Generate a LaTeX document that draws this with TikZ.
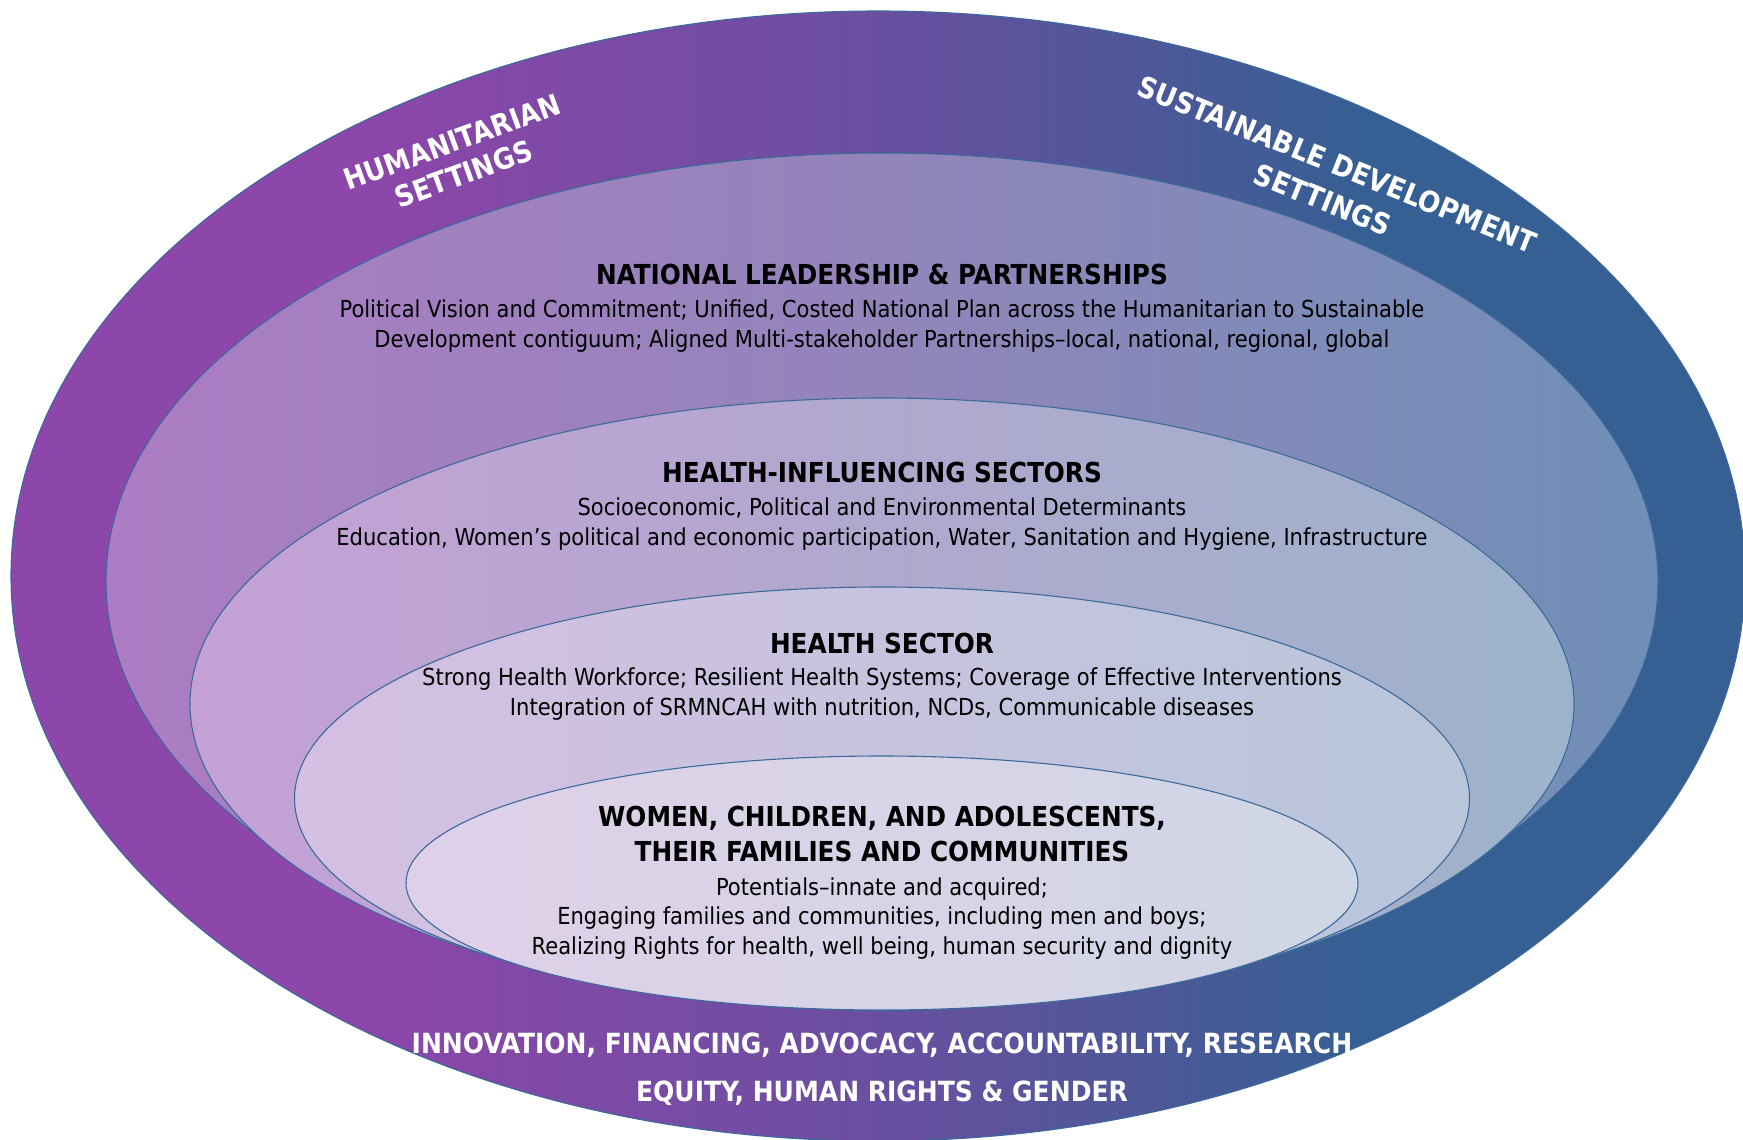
\documentclass[tikz,border=0pt]{standalone}
\usepackage{fontspec}
\setmainfont{DejaVu Sans Condensed}
\definecolor{o1}{HTML}{8D46AA}
\definecolor{o2}{HTML}{6A4FA0}
\definecolor{o3}{HTML}{365F93}
\definecolor{a1}{HTML}{AD7CC4}
\definecolor{a2}{HTML}{9285BA}
\definecolor{a3}{HTML}{6F8FB6}
\definecolor{b1}{HTML}{C5A1D6}
\definecolor{b2}{HTML}{B0A8CE}
\definecolor{b3}{HTML}{9DB3CC}
\definecolor{c1}{HTML}{D5BFE2}
\definecolor{c2}{HTML}{C7C3DE}
\definecolor{c3}{HTML}{B8C6DA}
\definecolor{d1}{HTML}{DFD0E9}
\definecolor{d2}{HTML}{D8D4E7}
\definecolor{d3}{HTML}{CFD6E5}
\definecolor{edge}{HTML}{3B6A9A}
\pgfdeclarehorizontalshading{outershade}{100bp}{color(0bp)=(o1); color(35bp)=(o1); color(50bp)=(o2); color(64bp)=(o3); color(100bp)=(o3)}
\tikzset{
  ring/.style={draw=edge, line width=1.1pt},
  ttl/.style={font=\bfseries\fontsize{27.5}{30}\selectfont, text=black, align=center},
  bdy/.style={font=\fontsize{23.4}{30}\selectfont, text=black, align=center},
  wht/.style={font=\bfseries\fontsize{27.8}{30}\selectfont, text=white, align=center},
  rot/.style={font=\bfseries\fontsize{29}{34}\selectfont, text=white, align=center},
}
\begin{document}
\begin{tikzpicture}[x=1pt,y=-1pt]
\useasboundingbox (0,0) rectangle (1743,1140);
\begin{scope}
\clip (0,0) rectangle (1743,1140);
\path[ring, shading=outershade] (878,576) ellipse [x radius=867, y radius=565];
\end{scope}
\path[ring, left color=a1, right color=a3, middle color=a2] (882,581.5) ellipse [x radius=776, y radius=428.5];
\path[ring, left color=b1, right color=b3, middle color=b2] (882,704) ellipse [x radius=692, y radius=306];
\path[ring, left color=c1, right color=c3, middle color=c2] (882,798.5) ellipse [x radius=587.5, y radius=211.5];
\path[ring, left color=d1, right color=d3, middle color=d2] (882,883) ellipse [x radius=476, y radius=127];

\node[rot, rotate=20] (hum) at (458,158) {HUMANITARIAN\\SETTINGS};
\node[rot, rotate=-22, font=\bfseries\fontsize{29}{38}\selectfont] (sus) at (1330,182) {SUSTAINABLE DEVELOPMENT\\SETTINGS};

\node[ttl] (t1) at (882,274.5) {NATIONAL LEADERSHIP \& PARTNERSHIPS};
\node[bdy] (b1) at (882,326) {Political Vision and Commitment; Unified, Costed National Plan across the Humanitarian to Sustainable\\Development contiguum; Aligned Multi-stakeholder Partnerships–local, national, regional, global};

\node[ttl] (t2) at (882,472.5) {HEALTH-INFLUENCING SECTORS};
\node[bdy] (b2) at (882,524) {Socioeconomic, Political and Environmental Determinants\\Education, Women’s political and economic participation, Water, Sanitation and Hygiene, Infrastructure};

\node[ttl] (t3) at (882,643.5) {HEALTH SECTOR};
\node[bdy] (b3) at (882,694.5) {Strong Health Workforce; Resilient Health Systems; Coverage of Effective Interventions\\Integration of SRMNCAH with nutrition, NCDs, Communicable diseases};

\node[ttl, font=\bfseries\fontsize{27.5}{34.5}\selectfont] (t4) at (882,834) {WOMEN, CHILDREN, AND ADOLESCENTS,\\THEIR FAMILIES AND COMMUNITIES};
\node[bdy, font=\fontsize{23.4}{29.5}\selectfont] (b4) at (882,918.5) {Potentials–innate and acquired;\\Engaging families and communities, including men and boys;\\Realizing Rights for health, well being, human security and dignity};

\node[wht] (f1) at (882,1045.5) {INNOVATION, FINANCING, ADVOCACY, ACCOUNTABILITY, RESEARCH};
\node[wht] (f2) at (882,1093.5) {EQUITY, HUMAN RIGHTS \& GENDER};
\end{tikzpicture}
\end{document}
